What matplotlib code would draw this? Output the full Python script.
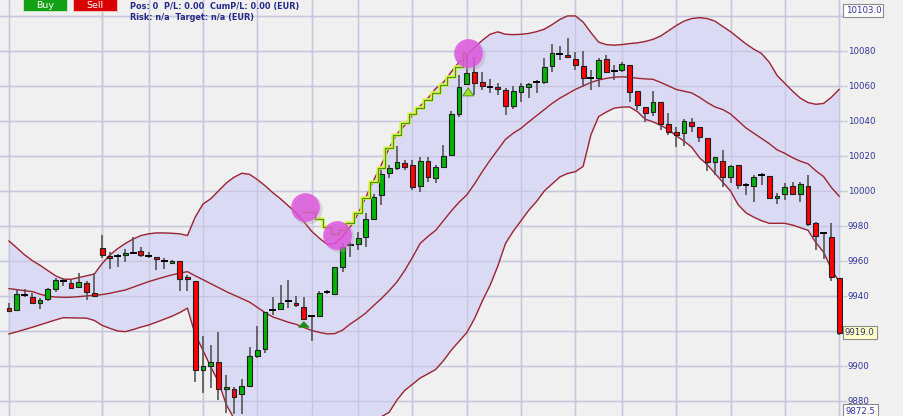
import numpy as np
import matplotlib.pyplot as plt
from matplotlib.patches import Rectangle, Polygon

# OHLC (candle index 0..107)
opens = [9933.0, 9932.0, 9940.2, 9939.6, 9935.8, 9938.1, 9944.2, 9948.4, 9947.4, 9945.3,
         9947.6, 9941.9, 9967.3, 9962.7, 9962.4, 9963.3, 9964.3, 9965.7, 9962.8, 9962.5,
         9959.7, 9958.7, 9960.0, 9950.7, 9948.7, 9897.7, 9900.2, 9902.3, 9886.7, 9886.7,
         9883.8, 9888.6, 9905.9, 9909.7, 9931.9, 9932.4, 9936.7, 9936.2, 9933.9, 9928.1,
         9928.6, 9941.8, 9941.1, 9956.4, 9969.0, 9969.5, 9973.5, 9983.8, 9997.5, 10010.5,
         10013.0, 10015.8, 10015.0, 10003.0, 10017.1, 10007.2, 10013.5, 10020.6, 10043.8, 10061.0,
         10067.8, 10062.1, 10059.2, 10059.3, 10057.5, 10048.6, 10056.7, 10059.6, 10062.0, 10062.5,
         10071.4, 10077.9, 10077.9, 10075.2, 10071.6, 10064.3, 10064.7, 10075.2, 10068.1, 10069.1,
         10072.2, 10057.0, 10048.2, 10045.3, 10050.9, 10038.3, 10033.7, 10033.0, 10039.3, 10036.4,
         10030.1, 10016.4, 10017.0, 10007.8, 10014.9, 10003.3, 10002.9, 10009.0, 10008.7, 9995.8,
         9998.3, 10003.0, 9998.3, 10003.0, 9981.5, 9975.7, 9973.5, 9950.1]
highs = [9936.2, 9943.8, 9944.2, 9941.9, 9939.0, 9944.7, 9950.1, 9950.1, 9949.1, 9952.9,
         9948.7, 9953.3, 9974.9, 9965.3, 9964.0, 9966.9, 9973.9, 9968.2, 9965.3, 9962.5,
         9961.5, 9960.6, 9960.0, 9952.0, 9948.7, 9917.1, 9912.0, 9919.3, 9894.9, 9888.2,
         9892.8, 9910.7, 9923.0, 9931.0, 9939.6, 9946.3, 9949.1, 9940.0, 9939.3, 9928.6,
         9943.0, 9943.4, 9956.4, 9970.1, 9971.0, 9976.7, 9987.3, 9998.3, 10013.9, 10014.9,
         10025.7, 10017.7, 10017.7, 10019.6, 10019.6, 10014.9, 10026.3, 10045.7, 10066.3, 10077.7,
         10076.7, 10068.2, 10063.8, 10061.5, 10058.7, 10060.0, 10061.5, 10061.9, 10063.4, 10075.8,
         10084.0, 10083.1, 10087.3, 10079.6, 10079.8, 10069.1, 10075.8, 10077.7, 10072.0, 10073.9,
         10072.2, 10057.0, 10048.2, 10057.1, 10050.9, 10044.6, 10036.6, 10041.0, 10041.5, 10036.4,
         10030.1, 10019.2, 10023.4, 10014.9, 10014.9, 10004.7, 10009.1, 10010.5, 10008.7, 9998.7,
         10004.7, 10005.3, 10005.3, 10009.1, 9982.5, 9976.7, 9981.5, 9950.1]
lows = [9930.9, 9931.5, 9939.3, 9935.4, 9932.4, 9937.3, 9942.5, 9945.9, 9943.8, 9944.6,
        9937.7, 9939.3, 9961.5, 9955.3, 9956.7, 9959.6, 9963.8, 9962.5, 9961.9, 9954.7,
        9955.4, 9958.3, 9942.7, 9942.7, 9890.7, 9884.8, 9887.2, 9880.6, 9872.9, 9872.5,
        9872.8, 9888.6, 9904.6, 9907.2, 9929.1, 9932.4, 9933.0, 9933.9, 9926.3, 9914.5,
        9928.6, 9941.1, 9941.1, 9953.5, 9962.1, 9966.3, 9968.2, 9983.4, 9992.0, 10007.6,
        10012.0, 10012.0, 10000.6, 9999.6, 10005.3, 10004.7, 10013.5, 10020.6, 10042.5, 10060.6,
        10054.9, 10057.7, 10055.8, 10054.9, 10043.4, 10046.7, 10051.0, 10053.0, 10056.2, 10061.1,
        10067.8, 10074.9, 10075.8, 10069.1, 10059.6, 10057.7, 10059.6, 10067.8, 10063.4, 10068.2,
        10050.7, 10046.3, 10039.6, 10042.6, 10034.9, 10031.7, 10025.3, 10025.7, 10033.9, 10028.2,
        10011.6, 10009.1, 10002.5, 10004.7, 10000.9, 9997.7, 9993.9, 10003.4, 9995.4, 9992.6,
        9994.9, 9998.3, 9993.5, 9980.0, 9966.3, 9961.0, 9948.6, 9917.7]
closes = [9931.4, 9940.9, 9940.6, 9936.2, 9937.7, 9944.0, 9949.1, 9948.8, 9944.7, 9948.2,
          9942.5, 9940.0, 9963.4, 9961.5, 9962.6, 9964.7, 9964.5, 9963.3, 9963.0, 9961.0,
          9959.9, 9960.2, 9949.5, 9949.5, 9897.7, 9900.2, 9902.3, 9886.9, 9888.2, 9882.1,
          9888.6, 9905.7, 9909.1, 9931.0, 9932.1, 9936.2, 9936.9, 9934.7, 9926.7, 9928.3,
          9941.9, 9942.0, 9956.4, 9967.8, 9969.2, 9972.9, 9984.0, 9996.4, 10009.7, 10013.0,
          10016.6, 10013.9, 10002.5, 10017.1, 10008.2, 10013.9, 10020.0, 10044.0, 10059.6, 10067.6,
          10061.5, 10060.2, 10059.4, 10058.1, 10048.7, 10057.1, 10059.8, 10061.1, 10062.2, 10071.0,
          10078.7, 10078.1, 10076.4, 10072.0, 10064.7, 10064.5, 10074.7, 10068.2, 10068.3, 10072.7,
          10056.4, 10049.1, 10044.4, 10050.9, 10038.3, 10033.5, 10031.7, 10040.0, 10037.1, 10031.0,
          10016.7, 10019.2, 10008.2, 10014.5, 10003.4, 10003.5, 10008.2, 10009.2, 9995.8, 9997.3,
          10002.5, 9998.3, 10003.8, 9981.1, 9974.5, 9975.9, 9951.0, 9919.0]

# Bollinger bands
upper = [9971.4, 9967.5, 9963.5, 9960.2, 9957.5, 9954.5, 9951.5, 9949.6, 9949.5, 9950.5,
         9951.5, 9952.5, 9958.5, 9963.4, 9967.0, 9970.0, 9972.5, 9974.5, 9975.5, 9976.0,
         9976.0, 9975.8, 9975.5, 9974.5, 9985.0, 9992.5, 9995.5, 10000.0, 10004.5, 10007.8,
         10010.1, 10009.5, 10006.5, 10003.0, 9999.0, 9995.5, 9991.5, 9987.5, 9982.5, 9977.0,
         9973.0, 9969.5, 9970.0, 9974.0, 9979.6, 9987.0, 9996.5, 10006.0, 10015.0, 10024.5,
         10032.5, 10037.5, 10043.5, 10048.5, 10053.0, 10058.5, 10062.0, 10068.0, 10073.5, 10077.5,
         10082.0, 10086.0, 10089.5, 10090.9, 10089.5, 10089.3, 10089.5, 10090.0, 10091.0, 10092.4,
         10095.0, 10098.0, 10100.0, 10100.0, 10096.5, 10090.5, 10085.0, 10083.6, 10083.3, 10083.6,
         10084.2, 10084.6, 10085.4, 10086.6, 10088.5, 10091.5, 10094.5, 10097.0, 10098.5, 10099.0,
         10098.5, 10097.0, 10094.0, 10091.0, 10087.5, 10084.0, 10081.0, 10078.5, 10073.5, 10066.0,
         10061.5, 10057.0, 10053.0, 10050.5, 10049.5, 10050.0, 10053.5, 10058.0]
middle = [9944.2, 9943.6, 9943.0, 9942.5, 9941.0, 9939.8, 9939.4, 9939.2, 9939.3, 9939.6,
          9940.0, 9940.3, 9940.8, 9941.5, 9942.5, 9943.4, 9945.0, 9946.6, 9948.2, 9949.5,
          9950.8, 9952.0, 9953.0, 9953.9, 9951.5, 9949.3, 9947.0, 9944.8, 9942.5, 9940.5,
          9938.5, 9936.5, 9933.5, 9930.5, 9928.0, 9926.5, 9925.0, 9923.8, 9922.0, 9920.3,
          9919.2, 9918.3, 9918.5, 9920.5, 9924.0, 9927.0, 9930.3, 9934.5, 9938.5, 9943.0,
          9948.0, 9954.5, 9962.0, 9970.0, 9974.0, 9977.5, 9983.0, 9988.5, 9993.5, 9997.7,
          10004.0, 10011.0, 10017.5, 10023.5, 10029.5, 10033.0, 10035.8, 10039.5, 10043.0, 10046.5,
          10050.0, 10053.0, 10055.5, 10058.0, 10060.0, 10062.0, 10063.4, 10064.3, 10065.0, 10065.2,
          10065.0, 10064.4, 10064.0, 10063.8, 10062.0, 10060.0, 10058.0, 10057.0, 10056.0, 10053.5,
          10050.5, 10048.0, 10046.5, 10044.0, 10040.0, 10036.0, 10033.0, 10030.0, 10027.0, 10023.5,
          10021.5, 10019.0, 10017.0, 10015.5, 10011.5, 10008.2, 10002.0, 9997.0]
lower = [9918.3, 9919.5, 9920.8, 9922.1, 9923.5, 9924.9, 9926.3, 9927.6, 9927.5, 9927.4,
         9927.3, 9926.0, 9923.2, 9921.5, 9920.0, 9919.6, 9920.8, 9922.2, 9923.4, 9925.0,
         9926.7, 9928.4, 9930.5, 9933.0, 9918.0, 9909.0, 9899.5, 9891.0, 9878.0, 9870.0,
         9866.0, 9862.0, 9860.0, 9858.0, 9857.0, 9857.0, 9857.5, 9859.0, 9861.0, 9863.5,
         9865.0, 9867.0, 9867.5, 9867.5, 9868.0, 9868.0, 9868.5, 9869.5, 9871.0, 9873.5,
         9880.5, 9886.0, 9889.5, 9893.1, 9895.5, 9898.0, 9903.0, 9909.0, 9914.0, 9919.0,
         9927.0, 9937.0, 9946.0, 9957.0, 9970.0, 9977.0, 9983.0, 9989.0, 9994.0, 10000.0,
         10004.0, 10008.0, 10010.0, 10011.0, 10014.0, 10032.0, 10042.5, 10045.1, 10047.3, 10047.9,
         10048.0, 10045.3, 10041.0, 10039.5, 10037.5, 10035.0, 10031.5, 10028.5, 10025.0, 10019.0,
         10015.0, 10010.0, 10005.0, 10000.0, 9992.0, 9987.5, 9985.0, 9983.0, 9981.5, 9981.5,
         9981.5, 9980.5, 9979.0, 9977.5, 9970.5, 9965.0, 9955.5, 9948.0]

# trailing stop steps and trade markers
stop_idx = list(range(38, 60))
stop_vals = [9987.8, 9987.8, 9983.8, 9979.6, 9975.4, 9977.7, 9981.9, 9987.3, 9996.0, 10005.1,
             10013.1, 10024.6, 10032.0, 10038.9, 10044.0, 10047.4, 10052.0, 10056.2, 10060.6, 10065.3,
             10071.0, 10078.7]
circle_idx = [38.2, 42.3, 59.2]
circle_vals = [9991.0, 9974.9, 10078.7]
tri_idx = [38.0, 59.2]
tri_peak = [9925.3, 10058.9]
tri_base = [9922.1, 10054.3]

y_ticks = list(range(9880, 10101, 20))
hidden_ticks = [10100, 9920]  # covered by the price boxes
grid_idx = [0, 12, 18, 25, 32, 39, 45, 52, 59, 66, 73, 79, 86, 93, 100, 107]

fig = plt.figure(figsize=(9.04, 4.16), dpi=100, facecolor="#f0f0f0")
ax = fig.add_axes([0, 0, 843 / 904, 1])
ax.set_facecolor("#f0f0f0")
ax.set_xlim(-1.16, 107.5)
ax.set_ylim(9871.4, 10109.1)

# grid
for y in y_ticks:
    ax.axhline(y, color="#d2d2d2", lw=1, zorder=0)
for g in grid_idx:
    ax.axvline(g, color="#bdbdbd" if g == 12 else "#d2d2d2", lw=1, zorder=0)

x = np.arange(len(opens))
ax.fill_between(x, lower, upper, color="#dadaf5", zorder=1)
for g in grid_idx:
    ax.axvline(g, color="#c6c6e0", lw=1, zorder=1.1)
for y in y_ticks:
    ax.axhline(y, color="#c6c6e0", lw=1, zorder=1.1)
for band in (upper, middle, lower):
    ax.plot(x, band, color="#9c2530", lw=1.0, zorder=2)

# candles
w = 0.62
for i in range(len(opens)):
    o, h, l, c = opens[i], highs[i], lows[i], closes[i]
    ax.plot([i, i], [l, h], color="#555555", lw=1.2, zorder=3, solid_capstyle="butt")
    if abs(c - o) < 0.6:
        ax.plot([i - w / 2, i + w / 2], [c, c], color="black", lw=1.4, zorder=4)
    else:
        col = "#00b400" if c > o else "#ff0000"
        ax.add_patch(Rectangle((i - w / 2, min(o, c)), w, abs(c - o), facecolor=col,
                               edgecolor="#202020", lw=0.8, zorder=4))

# trailing stop
ax.step(stop_idx, stop_vals, where="mid", color="#e4f24a", lw=2.6, zorder=5)
ax.step(stop_idx, stop_vals, where="mid", color="#3f9c12", lw=0.9, zorder=5)

# signals
for i, pk, bs, fc in zip(tri_idx, tri_peak, tri_base, ["#168c16", "#a6e420"]):
    ax.add_patch(Polygon([(i - 0.7, bs), (i + 0.7, bs), (i, pk)], closed=True,
                         facecolor=fc, edgecolor="#3c8a20", lw=0.6, zorder=6))
ax.scatter(np.array(circle_idx) + 0.25, np.array(circle_vals) - 1.2, s=470, color="#b0a0b0",
           alpha=0.35, lw=0, zorder=6)
ax.scatter(circle_idx, circle_vals, s=430, color="#e04ee0", alpha=0.78, lw=0, zorder=7)

# right price axis
ax.yaxis.tick_right()
ax.set_yticks(y_ticks)
ax.set_yticklabels(["" if v in hidden_ticks else str(v) for v in y_ticks])
ax.tick_params(axis="y", length=3, width=1, color="#c8c8c8", pad=0.5,
               labelsize=6.2, labelcolor="#33339a")
ax.set_xticks([])
for s in ax.spines.values():
    s.set_visible(False)

box = dict(boxstyle="square,pad=0.25", fc="white", ec="#8a8a8a", lw=0.8)
ax.annotate("10103.0", xy=(1.003, 10103.0), xycoords=("axes fraction", "data"),
            fontsize=6.2, color="#33339a", va="center", ha="left", bbox=box,
            annotation_clip=False, zorder=10)
ax.annotate("9919.0", xy=(1.002, 9919.0), xycoords=("axes fraction", "data"),
            fontsize=6.2, color="#333366", va="center", ha="left",
            bbox=dict(boxstyle="square,pad=0.25", fc="#ffffc8", ec="#8a8a8a", lw=0.8),
            annotation_clip=False, zorder=10)
ax.annotate("9872.5", xy=(1.003, 9874.2), xycoords=("axes fraction", "data"),
            fontsize=6.2, color="#33339a", va="center", ha="left", bbox=box,
            annotation_clip=False, zorder=10)

# top-left buttons and info text
fig.patches.append(Rectangle((23 / 904, 1 - 11 / 416), 44 / 904, 12 / 416, transform=fig.transFigure,
                             facecolor="#14a014", edgecolor="#cfe8cf", lw=0.6, zorder=20))
fig.patches.append(Rectangle((73 / 904, 1 - 11 / 416), 44 / 904, 12 / 416, transform=fig.transFigure,
                             facecolor="#d80000", edgecolor="#f0c8c8", lw=0.6, zorder=20))
fig.text(45 / 904, 1 - 5.5 / 416, "Buy", color="white", fontsize=6.8, ha="center", va="center",
         zorder=21)
fig.text(95 / 904, 1 - 5.5 / 416, "Sell", color="white", fontsize=6.8, ha="center", va="center",
         zorder=21)
fig.text(130 / 904, 1 - 6 / 416, "Pos: 0  P/L: 0.00  CumP/L: 0.00 (EUR)", color="#252a85",
         fontsize=5.9, fontweight="bold", ha="left", va="center", zorder=21)
fig.text(130 / 904, 1 - 17.5 / 416, "Risk: n/a  Target: n/a (EUR)", color="#252a85",
         fontsize=5.9, fontweight="bold", ha="left", va="center", zorder=21)

fig.savefig("out.png", dpi=100, facecolor=fig.get_facecolor())
